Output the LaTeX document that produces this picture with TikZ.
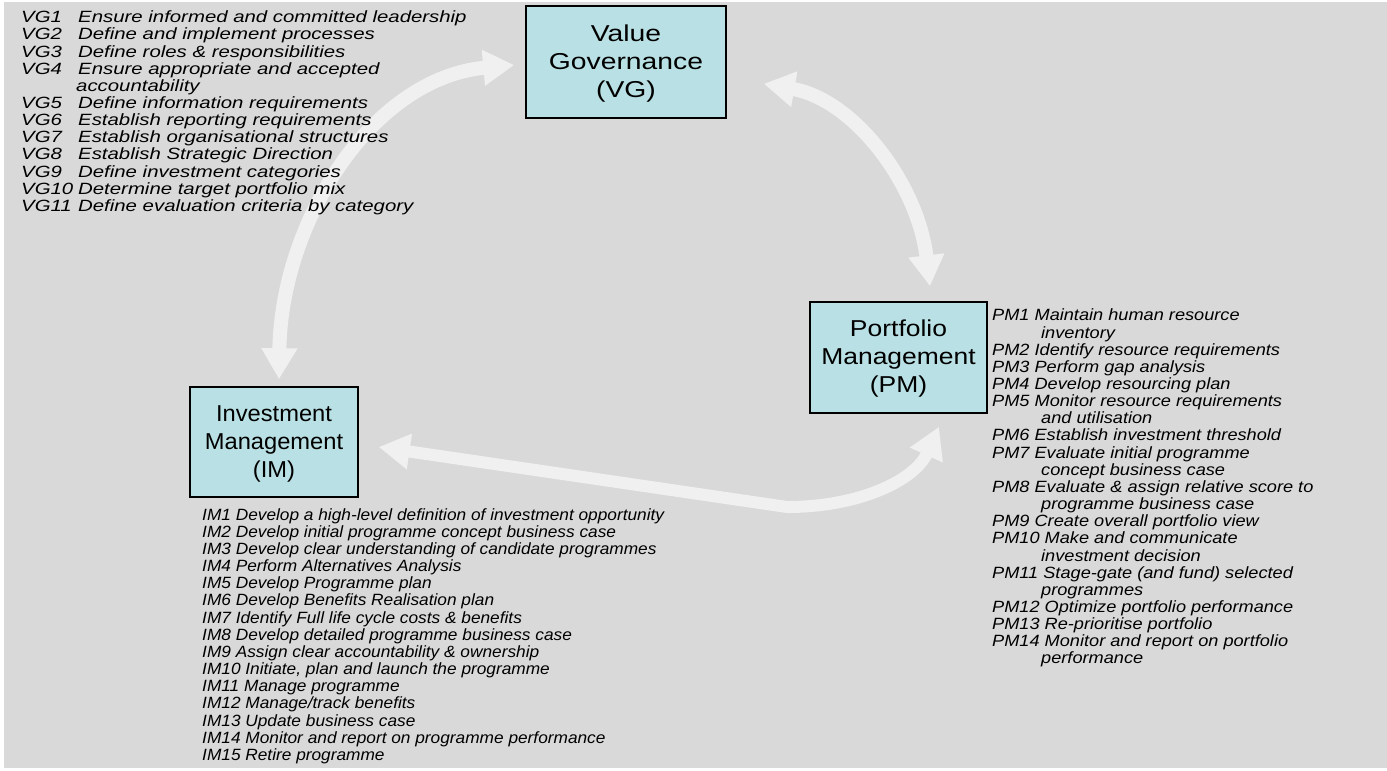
\documentclass[tikz,border=0pt]{standalone}
\usepackage{fontspec}
\setmainfont{Liberation Sans}
\newfontfamily\fvgbox[FakeStretch=1.23]{Liberation Sans}
\newfontfamily\fpmbox[FakeStretch=1.15]{Liberation Sans}
\newfontfamily\fimbox[FakeStretch=1.03]{Liberation Sans}
\newfontfamily\fvglist[FakeStretch=1.25]{Liberation Sans}
\newfontfamily\fpmlist[FakeStretch=1.115]{Liberation Sans}
\newfontfamily\fimlist[FakeStretch=1.06]{Liberation Sans}
\usetikzlibrary{arrows.meta,calc}
\definecolor{bgc}{RGB}{217,217,217}
\definecolor{boxc}{RGB}{185,224,228}
\definecolor{arrc}{RGB}{240,240,240}
\newcommand\vgitem[2]{\makebox[57pt][l]{#1}#2}
\newcommand\topfix{\rule{0pt}{19pt}}
\begin{document}
\begin{tikzpicture}[x=1pt,y=-1pt,
  stage/.style={draw=black, line width=1.5pt, fill=boxc, inner sep=0pt, align=center},
  listtext/.style={anchor=north west, inner sep=0pt, align=left, text=black},
  flow/.style={draw=arrc, line width=14pt,
    arrows={Triangle[width=34pt,length=31pt]-Triangle[width=34pt,length=31pt]}}]
\useasboundingbox (0,0) rectangle (1387,771);
\fill[white] (0,0) rectangle (1387,771);
\fill[bgc] (4,2) rectangle (1387,768);

% boxes
\node[stage, minimum width=200pt, minimum height=112pt,
  font=\fvgbox\fontsize{23}{28}\selectfont] (VG) at (626,62)
  {\topfix Value\\Governance\\(VG)};
\node[stage, minimum width=177pt, minimum height=111pt,
  font=\fpmbox\fontsize{23}{28}\selectfont] (PM) at (898.5,357.5)
  {\topfix Portfolio\\Management\\(PM)};
\node[stage, minimum width=168pt, minimum height=110pt,
  font=\fimbox\fontsize{23}{28}\selectfont] (IM) at (274,442)
  {\topfix Investment\\Management\\(IM)};

% connectors
\draw[flow] ($(VG.west)+(-11,3)$) .. controls (372,78) and (281,222) .. ($(IM.north)+(5,-7)$);
\draw[flow] ($(VG.south east)+(37,-35)$) .. controls (855,100) and (918,185) .. ($(PM.north)+(31.5,-15)$);
\draw[flow, line width=12pt] ($(IM.east)+(20,5)$) -- (787,507) .. controls (860,507) and (915,480) .. ($(PM.south)+(40.5,13)$);

% lists
\node[listtext, font=\fvglist\itshape\fontsize{16.3}{17.15}\selectfont] (vglist) at (21,10.5) {%
\strut\vgitem{VG1}{Ensure informed and committed leadership}\\
\vgitem{VG2}{Define and implement processes}\\
\vgitem{VG3}{Define roles \& responsibilities}\\
\vgitem{VG4}{Ensure appropriate and accepted}\\
\hspace*{55pt}accountability\\
\vgitem{VG5}{Define information requirements}\\
\vgitem{VG6}{Establish reporting requirements}\\
\vgitem{VG7}{Establish organisational structures}\\
\vgitem{VG8}{Establish Strategic Direction}\\
\vgitem{VG9}{Define investment categories}\\
\vgitem{VG10}{Determine target portfolio mix}\\
\vgitem{VG11}{Define evaluation criteria by category}};

\node[listtext, font=\fpmlist\itshape\fontsize{16.3}{17.15}\selectfont] (pmlist) at (992,308.7) {%
\strut PM1 Maintain human resource\\
\hspace*{49pt}inventory\\
PM2 Identify resource requirements\\
PM3 Perform gap analysis\\
PM4 Develop resourcing plan\\
PM5 Monitor resource requirements\\
\hspace*{49pt}and utilisation\\
PM6 Establish investment threshold\\
PM7 Evaluate initial programme\\
\hspace*{49pt}concept business case\\
PM8 Evaluate \& assign relative score to\\
\hspace*{49pt}programme business case\\
PM9 Create overall portfolio view\\
PM10 Make and communicate\\
\hspace*{49pt}investment decision\\
PM11 Stage-gate (and fund) selected\\
\hspace*{49pt}programmes\\
PM12 Optimize portfolio performance\\
PM13 Re-prioritise portfolio\\
PM14 Monitor and report on portfolio\\
\hspace*{49pt}performance};

\node[listtext, font=\fimlist\itshape\fontsize{16.3}{17.15}\selectfont] (imlist) at (202,508) {%
\strut IM1 Develop a high-level definition of investment opportunity\\
IM2 Develop initial programme concept business case\\
IM3 Develop clear understanding of candidate programmes\\
IM4 Perform Alternatives Analysis\\
IM5 Develop Programme plan\\
IM6 Develop Benefits Realisation plan\\
IM7 Identify Full life cycle costs \& benefits\\
IM8 Develop detailed programme business case\\
IM9 Assign clear accountability \& ownership\\
IM10 Initiate, plan and launch the programme\\
IM11 Manage programme\\
IM12 Manage/track benefits\\
IM13 Update business case\\
IM14 Monitor and report on programme performance\\
IM15 Retire programme};
\end{tikzpicture}
\end{document}
